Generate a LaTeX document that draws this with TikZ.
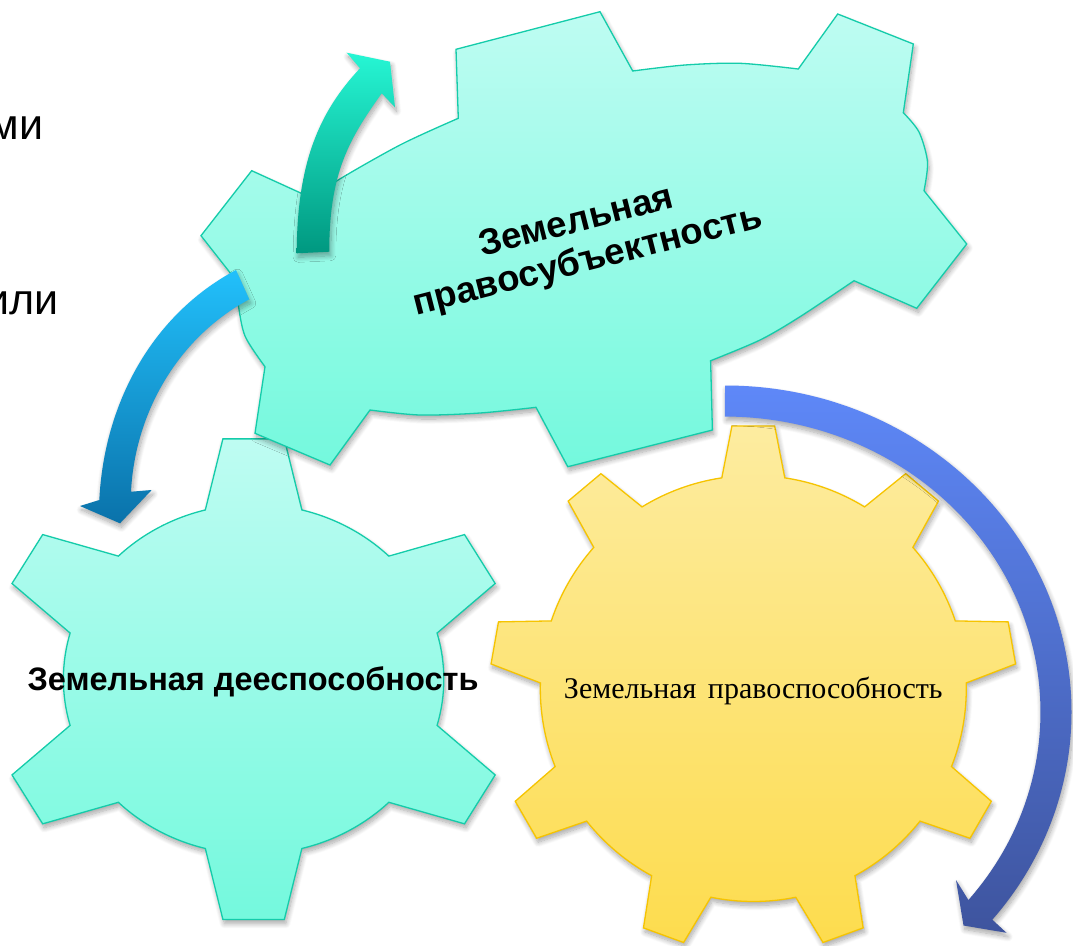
\documentclass[tikz,border=0pt]{standalone}
\usepackage{fontspec}
\setmainfont{Liberation Serif}
\newfontfamily\arial{Liberation Sans}
\usetikzlibrary{shadows.blur}
\definecolor{tealTop}{RGB}{190,252,242}
\definecolor{tealBot}{RGB}{116,249,221}
\definecolor{tealLine}{RGB}{20,204,170}
\definecolor{yelTop}{RGB}{253,236,160}
\definecolor{yelBot}{RGB}{253,220,78}
\definecolor{yelLine}{RGB}{246,196,0}
\definecolor{grnTop}{RGB}{38,246,212}
\definecolor{grnBot}{RGB}{0,152,128}
\definecolor{bluTop}{RGB}{34,192,251}
\definecolor{bluBot}{RGB}{10,114,170}
\definecolor{purTop}{RGB}{94,136,248}
\definecolor{purBot}{RGB}{62,84,158}
\begin{document}
\begin{tikzpicture}[x=1bp,y=-1bp,
  softshadow/.style={blur shadow={shadow xshift=1.5bp, shadow yshift=-4bp, shadow blur radius=5bp, shadow blur steps=10, shadow opacity=35}},
  tealgear/.style={draw=tealLine, line width=1.3bp, top color=tealTop, bottom color=tealBot, softshadow},
  yelgear/.style={draw=yelLine, line width=1.3bp, top color=yelTop, bottom color=yelBot, softshadow},
  garrow/.style={top color=grnTop, bottom color=grnBot, softshadow},
  barrow/.style={top color=bluTop, bottom color=bluBot, softshadow},
  parrow/.style={top color=purTop, bottom color=purBot, softshadow},
  boldlabel/.style={font=\arial\bfseries\fontsize{#1}{1.2\dimexpr#1\relax}\selectfont, inner sep=0pt},
  fragment/.style={font=\arial\fontsize{43bp}{50bp}\selectfont, anchor=base west, inner sep=0pt}
]
\useasboundingbox (0,0) rectangle (1073,946);

% bottom-left teal gear
\path[tealgear, shift={(253.6,679.2)}, xscale=1.087]
  (15.3:175) \foreach \a in {30,90,...,330}{ -- ({\a-14.7}:175) -- ({\a-6.7}:242) -- ({\a+6.7}:242) -- ({\a+14.7}:175) arc[start angle={\a+14.7}, end angle={\a+45.3}, radius=175] } -- cycle;

% yellow gear
\path[yelgear, shift={(753.3,688.5)}]
  (-98.5:213) \foreach \a in {-90,-50,...,230}{ -- ({\a-8.5}:213) -- ({\a-4.65}:263.4) -- ({\a+4.65}:263.4) -- ({\a+8.5}:213) arc[start angle={\a+8.5}, end angle={\a+31.5}, radius=213] } -- cycle;

% top teal gear
\path[tealgear] (458.3,118.3) -- (456,49.3) -- (600,11.7) -- (632.7,71)
  -- plot[smooth] coordinates {(632.7,71) (685,65) (740,63.3) (798.3,69)}
  -- (837.7,14) -- (913.3,44) -- (903.3,112.7)
  -- plot[smooth] coordinates {(903.3,112.7) (919,132) (927.5,162) (924,190.7)}
  -- (966.7,244) -- (916.7,308.3) -- (854,280.7)
  -- plot[smooth] coordinates {(854,280.7) (800,316.7) (760,340) (710.6,360.7)}
  -- (712.4,430) -- (567.8,466.7) -- (536,407.3)
  -- plot[smooth] coordinates {(536,407.3) (480,413) (420,415) (370,410)}
  -- (330,465) -- (255,433.3) -- (265,366.7)
  -- plot[smooth] coordinates {(265,366.7) (245,336) (238,303) (235,279)}
  -- (201,235.7) -- (251.7,170.7) -- (316,200)
  -- plot[smooth] coordinates {(316,200) (333,183.3) (400,145) (458.3,118.3)}
  -- cycle;

% arrows
\path[garrow] (296.7,253.3) .. controls (297,163) and (319,112) .. (360,68.3) -- (346.7,52.7) -- (390,61.7) -- (395,107.3) -- (381.7,93.3) .. controls (350,138) and (329,172) .. (329.3,251.7) -- cycle;
\path[barrow] (236,270) .. controls (151.5,315) and (104.1,404) .. (99.3,500) -- (80,506) -- (120,523.3) -- (151.7,490) -- (131,491.7) .. controls (135,411.7) and (178.9,336.9) .. (249.3,299.3) -- cycle;
\path[parrow] (725,385.5) arc[start angle=-90, end angle=39.5, x radius=346.5, y radius=326.5] -- (1006.5,932.8) -- (963.5,925.5) -- (956,880) -- (968.4,900) arc[start angle=39.5, end angle=-90, x radius=315.5, y radius=295.5] -- cycle;

% texts
\node[boldlabel=36.5bp, rotate=14.3, anchor=base] (t1) at (578.9,231.7) {Земельная};
\node[boldlabel=36.5bp, rotate=14.3, anchor=base] (t2) at (590,270.9) {правосубъектность};
\node[boldlabel=32.5bp, anchor=base] (t3) at (253,690) {Земельная дееспособность};
\node[font=\fontsize{30bp}{36bp}\selectfont, anchor=base, inner sep=0pt] (t4) at (753.3,698.8) {Земельная\hspace{4bp} правоспособность};
\node[fragment] (f1) at (-10.5,139.3) {ми};
\node[fragment] (f2) at (-14.5,314) {или};
\end{tikzpicture}
\end{document}
